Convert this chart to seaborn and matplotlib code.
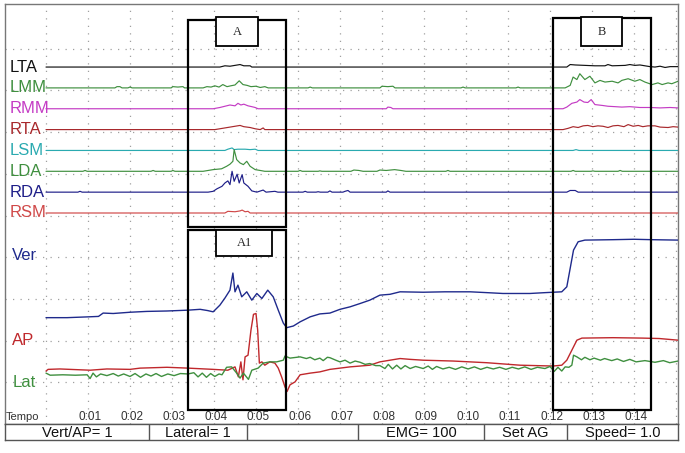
import numpy as np
import pandas as pd
import matplotlib
matplotlib.use("Agg")
import matplotlib.pyplot as plt
import seaborn as sns
from matplotlib.patches import Rectangle

# ---------------------------------------------------------------
# Data
# time in seconds, force traces in screen divisions,
# EMG in 1/100 division (display gain "EMG= 100")
# ---------------------------------------------------------------
emg_names = ["LTA", "LMM", "RMM", "RTA", "LSM", "LDA", "RDA", "RSM"]
emg_colors = ["#111111", "#3f8f3f", "#c43cc4", "#a8282c", "#2aaab0", "#3f8f3f", "#1e1e88", "#d04848"]

lta_t = [0, 4.14, 4.26, 4.38, 4.50, 4.62, 4.71, 4.86, 4.90, 12.40, 12.48, 12.60, 12.83, 13.07,
         13.31, 13.38, 13.48, 13.79, 13.90, 14.02, 14.14, 14.26, 14.38, 14.50, 14.62, 14.74, 14.86, 15.05]
lta_v = [0, 0, 3, 2, 4, 6, 3, 3, 0, 0, 6, 5, 4, 3,
         3, 6, 3, 4, 6, 4, 5, 3, 1, 0, 2, -1, 1, 1]

lmm_t = [0, 1.64, 1.69, 1.76, 1.81, 1.95, 2.0, 2.05, 2.98, 3.02, 3.14, 3.26, 3.30,
         3.74, 3.83, 3.93, 4.02, 4.12, 4.21, 4.31, 4.40, 4.50, 4.60, 4.69, 4.79, 4.88, 5.0, 5.10, 5.21, 5.29,
         6.24, 6.29, 6.34, 7.95, 8.0, 8.14, 8.26, 8.31, 9.88, 9.93, 9.98, 11.19, 11.24, 11.29,
         12.36, 12.48, 12.55, 12.64, 12.71, 12.83, 12.95, 13.07, 13.19, 13.31, 13.48, 13.62, 13.71,
         13.86, 14.02, 14.14, 14.26, 14.43, 14.57, 14.67, 14.81, 14.90, 15.05]
lmm_v = [0, 0, 3, 3, 0, 0, 2, 0, 0, 3, 2, 3, 0,
         0, 3, 2, 5, 2, 8, 3, 5, 7, 17, 8, 6, 3, 4, 1, 3, 0,
         0, 2, 0, 0, 4, 3, 4, 0, 0, 2, 0, 0, 2, 0,
         0, 6, 26, 20, 34, 20, 28, 12, 18, 14, 16, 12, 18,
         22, 16, 20, 14, 8, 12, 8, 12, 10, 16]

rmm_t = [0, 3.98, 4.14, 4.26, 4.38, 4.50, 4.57, 4.64, 4.71, 4.81, 4.90, 4.98, 5.05,
         8.10, 8.14, 8.21, 8.26, 12.31, 12.40, 12.52, 12.64, 12.71, 12.81, 12.90, 12.98, 13.07,
         13.24, 13.38, 13.55, 13.71, 13.90, 14.14, 14.38, 14.62, 14.86, 15.05]
rmm_v = [0, 0, 3, 6, 9, 7, 13, 9, 11, 7, 5, 3, 0,
         0, 4, 3, 0, 0, 4, 13, 16, 22, 16, 15, 22, 10,
         8, 6, 5, 4, 5, 3, 3, 2, 3, 2]

rta_t = [0, 4.02, 4.14, 4.26, 4.38, 4.50, 4.62, 4.71, 4.86, 4.98, 5.10, 5.17, 5.21,
         12.31, 12.43, 12.55, 12.67, 12.79, 12.90, 13.02, 13.14, 13.26, 13.38, 13.50, 13.62,
         13.76, 13.86, 13.98, 14.10, 14.21, 14.33, 14.50, 14.62, 14.81, 14.93, 15.05]
rta_v = [0, 0, 2, 4, 6, 8, 10, 7, 5, 2, 0, 4, 0,
         0, 3, 7, 5, 9, 10, 7, 9, 8, 5, 9, 10,
         7, 12, 8, 10, 7, 9, 9, 6, 5, 7, 6]

lsm_t = [0, 4.26, 4.33, 4.43, 4.48, 4.57, 4.74, 4.86, 4.98, 5.05, 12.55, 12.62, 12.69, 15.05]
lsm_v = [0, 0, 3, 6, 2, 3, 3, 2, 3, 0, 0, 2, 0, 0]

lda_t = [0, 0.88, 0.93, 0.98, 2.50, 2.55, 2.60, 2.98, 3.02, 3.07,
         3.74, 3.98, 4.18, 4.30, 4.38, 4.45, 4.48, 4.54, 4.62, 4.70, 4.78, 4.86, 4.98, 5.10, 5.21,
         6.0, 6.05, 6.10, 6.48, 6.52, 6.57, 7.26, 7.33, 7.45, 7.55, 7.88, 7.95, 8.10, 8.30, 8.45, 8.57,
         9.52, 9.57, 9.62, 12.50, 12.55, 12.60, 12.98, 13.02, 13.07, 13.62, 13.67, 13.72, 15.05]
lda_v = [0, 0, 2, 0, 0, 2, 0, 0, 2, 0,
         0, 4, 6, 12, 17, 24, 52, 28, 20, 16, 24, 12, 4, 2, 0,
         0, 2, 0, 0, 1, 0, 0, 3, 2, 0, 0, 3, 2, 4, 2, 0,
         0, 2, 0, 0, 2, 0, 0, 1, 0, 0, 2, 0, 0]

rda_t = [0, 0.76, 0.81, 0.86, 3.86, 3.98, 4.07, 4.19, 4.26, 4.33, 4.38, 4.43, 4.48, 4.55,
         4.60, 4.67, 4.71, 4.81, 4.90, 5.02, 5.17, 5.24, 5.45, 5.52, 6.12, 6.17, 6.22,
         6.43, 6.48, 6.53, 6.71, 6.76, 6.81, 7.07, 7.12, 7.19, 7.24, 8.10, 8.14, 8.19,
         12.40, 12.48, 12.60, 12.67, 15.05]
rda_v = [0, 0, 2, 0, 0, 2, 8, 14, 22, 27, 18, 50, 26, 43,
         22, 42, 22, 14, 3, 0, 5, 0, 2, 0, 0, 2, 0,
         0, 1, 0, 0, 3, 0, 0, 2, 4, 0, 0, 3, 0,
         0, 4, 4, 0, 0]

rsm_t = [0, 4.26, 4.33, 4.50, 4.62, 4.67, 4.74, 4.81, 4.86, 15.05]
rsm_v = [0, 0, 4, 3, 5, 7, 3, 4, 0, 0]

ver_t = [0.0, 0.5, 1.02, 1.25, 1.36, 1.6, 2.0, 2.4, 2.88, 3.38,
         3.67, 3.85, 3.98, 4.14, 4.26, 4.38, 4.45, 4.50, 4.57, 4.66,
         4.78, 4.90, 5.02, 5.14, 5.28, 5.41, 5.53, 5.65, 5.73, 5.89,
         6.05, 6.29, 6.52, 6.76, 7.0, 7.24, 7.48, 7.71, 7.95, 8.19,
         8.43, 8.98, 9.5, 10.1, 10.5, 10.88, 11.52, 11.88, 12.28, 12.40,
         12.48, 12.56, 12.67, 12.83, 13.5, 14.0, 14.42, 15.05]
ver_v = [2.55, 2.55, 2.57, 2.58, 2.66, 2.65, 2.68, 2.70, 2.71, 2.73,
         2.75, 2.72, 2.69, 2.85, 3.02, 3.21, 3.62, 3.17, 3.33, 3.05,
         3.17, 2.97, 3.13, 3.01, 3.21, 3.05, 2.73, 2.42, 2.31, 2.35,
         2.45, 2.57, 2.64, 2.66, 2.75, 2.81, 2.89, 2.97, 3.09, 3.11,
         3.17, 3.16, 3.17, 3.17, 3.15, 3.13, 3.13, 3.15, 3.17, 3.29,
         3.73, 4.17, 4.37, 4.41, 4.42, 4.43, 4.42, 4.41]

ap_t = [0.0, 0.05, 0.33, 1.05, 1.45, 2.0, 2.24, 2.88, 3.38, 3.98,
        4.33, 4.50, 4.58, 4.64, 4.69, 4.74, 4.81, 4.88, 4.94, 5.0,
        5.04, 5.08, 5.14, 5.21, 5.33, 5.45, 5.53, 5.61, 5.69, 5.74,
        5.81, 5.93, 6.05, 6.29, 6.52, 6.76, 7.0, 7.24, 7.48, 7.71,
        7.95, 8.19, 8.43, 8.67, 8.98, 9.69, 10.49, 11.29, 12.07, 12.28,
        12.40, 12.52, 12.64, 12.76, 13.5, 14.2, 14.6, 15.05]
ap_v = [1.27, 1.31, 1.32, 1.29, 1.32, 1.31, 1.34, 1.36, 1.34, 1.31,
        1.29, 1.37, 1.13, 1.49, 1.06, 1.61, 1.65, 2.25, 2.63, 2.65,
        2.25, 1.46, 1.49, 1.41, 1.49, 1.46, 1.34, 1.13, 0.89, 0.78,
        0.94, 1.01, 1.18, 1.22, 1.25, 1.31, 1.34, 1.37, 1.39, 1.41,
        1.49, 1.53, 1.57, 1.55, 1.53, 1.51, 1.47, 1.41, 1.39, 1.41,
        1.53, 1.77, 2.01, 2.06, 2.07, 2.06, 2.05, 2.01]

lat_t = [0.0, 0.1, 0.4, 0.7, 0.98, 1.05, 1.12, 1.2, 1.3, 1.45,
         1.6, 1.72, 1.85, 2.0, 2.12, 2.25, 2.38, 2.5, 2.62, 2.75,
         2.9, 3.05, 3.2, 3.38, 3.52, 3.62, 3.72, 3.82, 3.92, 4.02,
         4.12, 4.19, 4.30, 4.42, 4.54, 4.62, 4.70, 4.82, 4.90, 5.05,
         5.17, 5.33, 5.49, 5.65, 5.69, 5.81, 6.05, 6.2, 6.29, 6.4,
         6.52, 6.6, 6.7, 6.76, 6.9, 7.0, 7.12, 7.24, 7.36, 7.48,
         7.6, 7.71, 7.85, 7.95, 8.07, 8.15, 8.25, 8.35, 8.45, 8.55,
         8.67, 8.8, 8.98, 9.1, 9.2, 9.3, 9.45, 9.6, 9.75, 9.9,
         10.05, 10.2, 10.35, 10.5, 10.65, 10.8, 10.95, 11.1, 11.25, 11.4,
         11.55, 11.7, 11.88, 12.0, 12.1, 12.19, 12.28, 12.36, 12.45, 12.52,
         12.56, 12.64, 12.75, 12.83, 12.95, 13.05, 13.2, 13.3, 13.47, 13.6,
         13.75, 13.9, 14.05, 14.26, 14.5, 14.7, 14.85, 15.05]
lat_v = [1.22, 1.17, 1.18, 1.17, 1.18, 1.09, 1.22, 1.13, 1.20, 1.16,
         1.21, 1.15, 1.20, 1.14, 1.21, 1.12, 1.20, 1.15, 1.21, 1.14,
         1.20, 1.16, 1.21, 1.20, 1.23, 1.13, 1.22, 1.12, 1.21, 1.14,
         1.20, 1.18, 1.36, 1.37, 1.22, 1.10, 1.22, 1.07, 1.29, 1.34,
         1.46, 1.49, 1.49, 1.53, 1.63, 1.58, 1.61, 1.57, 1.60, 1.54,
         1.58, 1.52, 1.60, 1.59, 1.53, 1.49, 1.53, 1.46, 1.51, 1.48,
         1.43, 1.45, 1.40, 1.40, 1.33, 1.43, 1.32, 1.41, 1.32, 1.40,
         1.33, 1.38, 1.33, 1.39, 1.31, 1.38, 1.32, 1.36, 1.31, 1.37,
         1.32, 1.37, 1.31, 1.36, 1.32, 1.36, 1.31, 1.36, 1.32, 1.37,
         1.31, 1.36, 1.33, 1.38, 1.26, 1.36, 1.27, 1.37, 1.36, 1.41,
         1.65, 1.61, 1.54, 1.60, 1.54, 1.58, 1.53, 1.57, 1.52, 1.56,
         1.50, 1.55, 1.49, 1.52, 1.48, 1.52, 1.47, 1.51]

force_names = ["Ver", "AP", "Lat"]
force_colors = ["#1f2a8c", "#c0282c", "#3f8f3f"]
force_label_y = [4.04, 2.01, 0.99]

tempo_ticks = [1, 2, 3, 4, 5, 6, 7, 8, 9, 10, 11, 12, 13, 14]
tempo_labels = ["0:01", "0:02", "0:03", "0:04", "0:05", "0:06", "0:07",
                "0:08", "0:09", "0:10", "0:11", "0:12", "0:13", "0:14"]

footer_labels = ["Vert/AP= 1", "Lateral= 1", "", "EMG= 100", "Set AG", "Speed= 1.0"]

# marked windows (s)
window_a = (3.38, 5.71)
window_b = (12.07, 14.40)

# ---------------------------------------------------------------
# Layout (screen pixels of the original 685x453 capture)
# ---------------------------------------------------------------
W, H = 685, 453
X0_PX, PX_S = 46, 42.0          # t=0 position and pixels per second
PX_DIV = 41.7                    # pixels per vertical division
EMG_TOP, EMG_STEP = 8.56, 0.5    # baseline of first EMG channel, spacing
footer_edges = [5, 149, 247, 358, 484, 567, 678]

sns.set_theme(style="white")
plt.rcParams['font.family'] = ['Liberation Sans', 'DejaVu Sans']


def px_box(x0, y0, x1, y1):
    return [x0 / W, 1 - y1 / H, (x1 - x0) / W, (y1 - y0) / H]


fig = plt.figure(figsize=(6.85, 4.53), dpi=100)
ax = fig.add_axes(px_box(5, 4, 678, 424))
tab = fig.add_axes(px_box(5, 424, 678, 440))

ax.set_xlim((5 - X0_PX) / PX_S, (678 - X0_PX) / PX_S)
ax.set_ylim(0, 420 / PX_DIV)
ax.set_xticks([])
ax.set_yticks([])
for s in ax.spines.values():
    s.set_color("#777777")
    s.set_linewidth(1.0)

# dotted screen grid
for t in range(0, 16):
    ax.axvline(t, color="#a0a0a0", lw=0.9, ls=(0, (1, 5)), zorder=0)
for d in range(1, 10):
    ax.axhline(d, color="#a0a0a0", lw=0.9, ls=(0, (1, 5)), zorder=0)

# EMG channels
emg_t = [lta_t, lmm_t, rmm_t, rta_t, lsm_t, lda_t, rda_t, rsm_t]
emg_v = [lta_v, lmm_v, rmm_v, rta_v, lsm_v, lda_v, rda_v, rsm_v]
for i, (name, col, tt, vv) in enumerate(zip(emg_names, emg_colors, emg_t, emg_v)):
    base = EMG_TOP - i * EMG_STEP
    df = pd.DataFrame({"t": tt, "v": np.array(vv) / 100.0 + base})
    sns.lineplot(data=df, x="t", y="v", ax=ax, color=col, lw=0.85,
                 estimator=None, sort=False, legend=False, zorder=3)
    ax.text(-0.86, base, name, color=col, fontsize=12, ha="left", va="center")

# force platform traces
for name, col, tt, vv, ly in zip(force_names, force_colors,
                                 [ver_t, ap_t, lat_t], [ver_v, ap_v, lat_v], force_label_y):
    df = pd.DataFrame({"t": tt, "v": vv})
    sns.lineplot(data=df, x="t", y="v", ax=ax, color=col, lw=1.0,
                 estimator=None, sort=False, legend=False, zorder=3)
    ax.text(-0.80, ly, name, color=col, fontsize=12, ha="left", va="center")
ax.set_xlabel("")
ax.set_ylabel("")

# time labels
ax.text(-0.95, 7 / PX_DIV, "Tempo", fontsize=8, color="#333333", ha="left", va="center")
for t, lab in zip(tempo_ticks, tempo_labels):
    ax.text(t + 0.05, 7 / PX_DIV, lab, fontsize=8.5, color="#333333", ha="center", va="center")


def frame(t0, t1, y0, y1, lw=1.6):
    ax.add_patch(Rectangle((t0, y0), t1 - t0, y1 - y0, fill=False, ec="black", lw=lw, zorder=6))


def tag(t0, t1, y0, y1, text):
    ax.add_patch(Rectangle((t0, y0), t1 - t0, y1 - y0, fc="white", ec="black", lw=1.3, zorder=7))
    ax.text((t0 + t1) / 2, (y0 + y1) / 2, text, family="Liberation Serif", fontsize=9,
            ha="center", va="center", zorder=8)


# window A (EMG part and force part A1) and window B
frame(window_a[0], window_a[1], 4.72, 9.69)
frame(window_a[0], window_a[1], 0.34, 4.65)
frame(window_b[0], window_b[1], 0.34, 9.74)
tag(4.05, 5.05, 9.06, 9.76, "A")
tag(12.74, 13.71, 9.06, 9.76, "B")
tag(4.05, 5.38, 4.03, 4.66, "A1")

# footer table
tab.set_xlim(footer_edges[0], footer_edges[-1])
tab.set_ylim(0, 1)
tab.set_xticks([])
tab.set_yticks([])
for s in tab.spines.values():
    s.set_color("#555555")
    s.set_linewidth(1.0)
for x in footer_edges[1:-1]:
    tab.axvline(x, color="#555555", lw=1.0)
for a, b, lab in zip(footer_edges[:-1], footer_edges[1:], footer_labels):
    tab.text((a + b) / 2, 0.45, lab, fontsize=10.5, ha="center", va="center", color="#111111")

fig.savefig("out.png", dpi=100, facecolor="white")
